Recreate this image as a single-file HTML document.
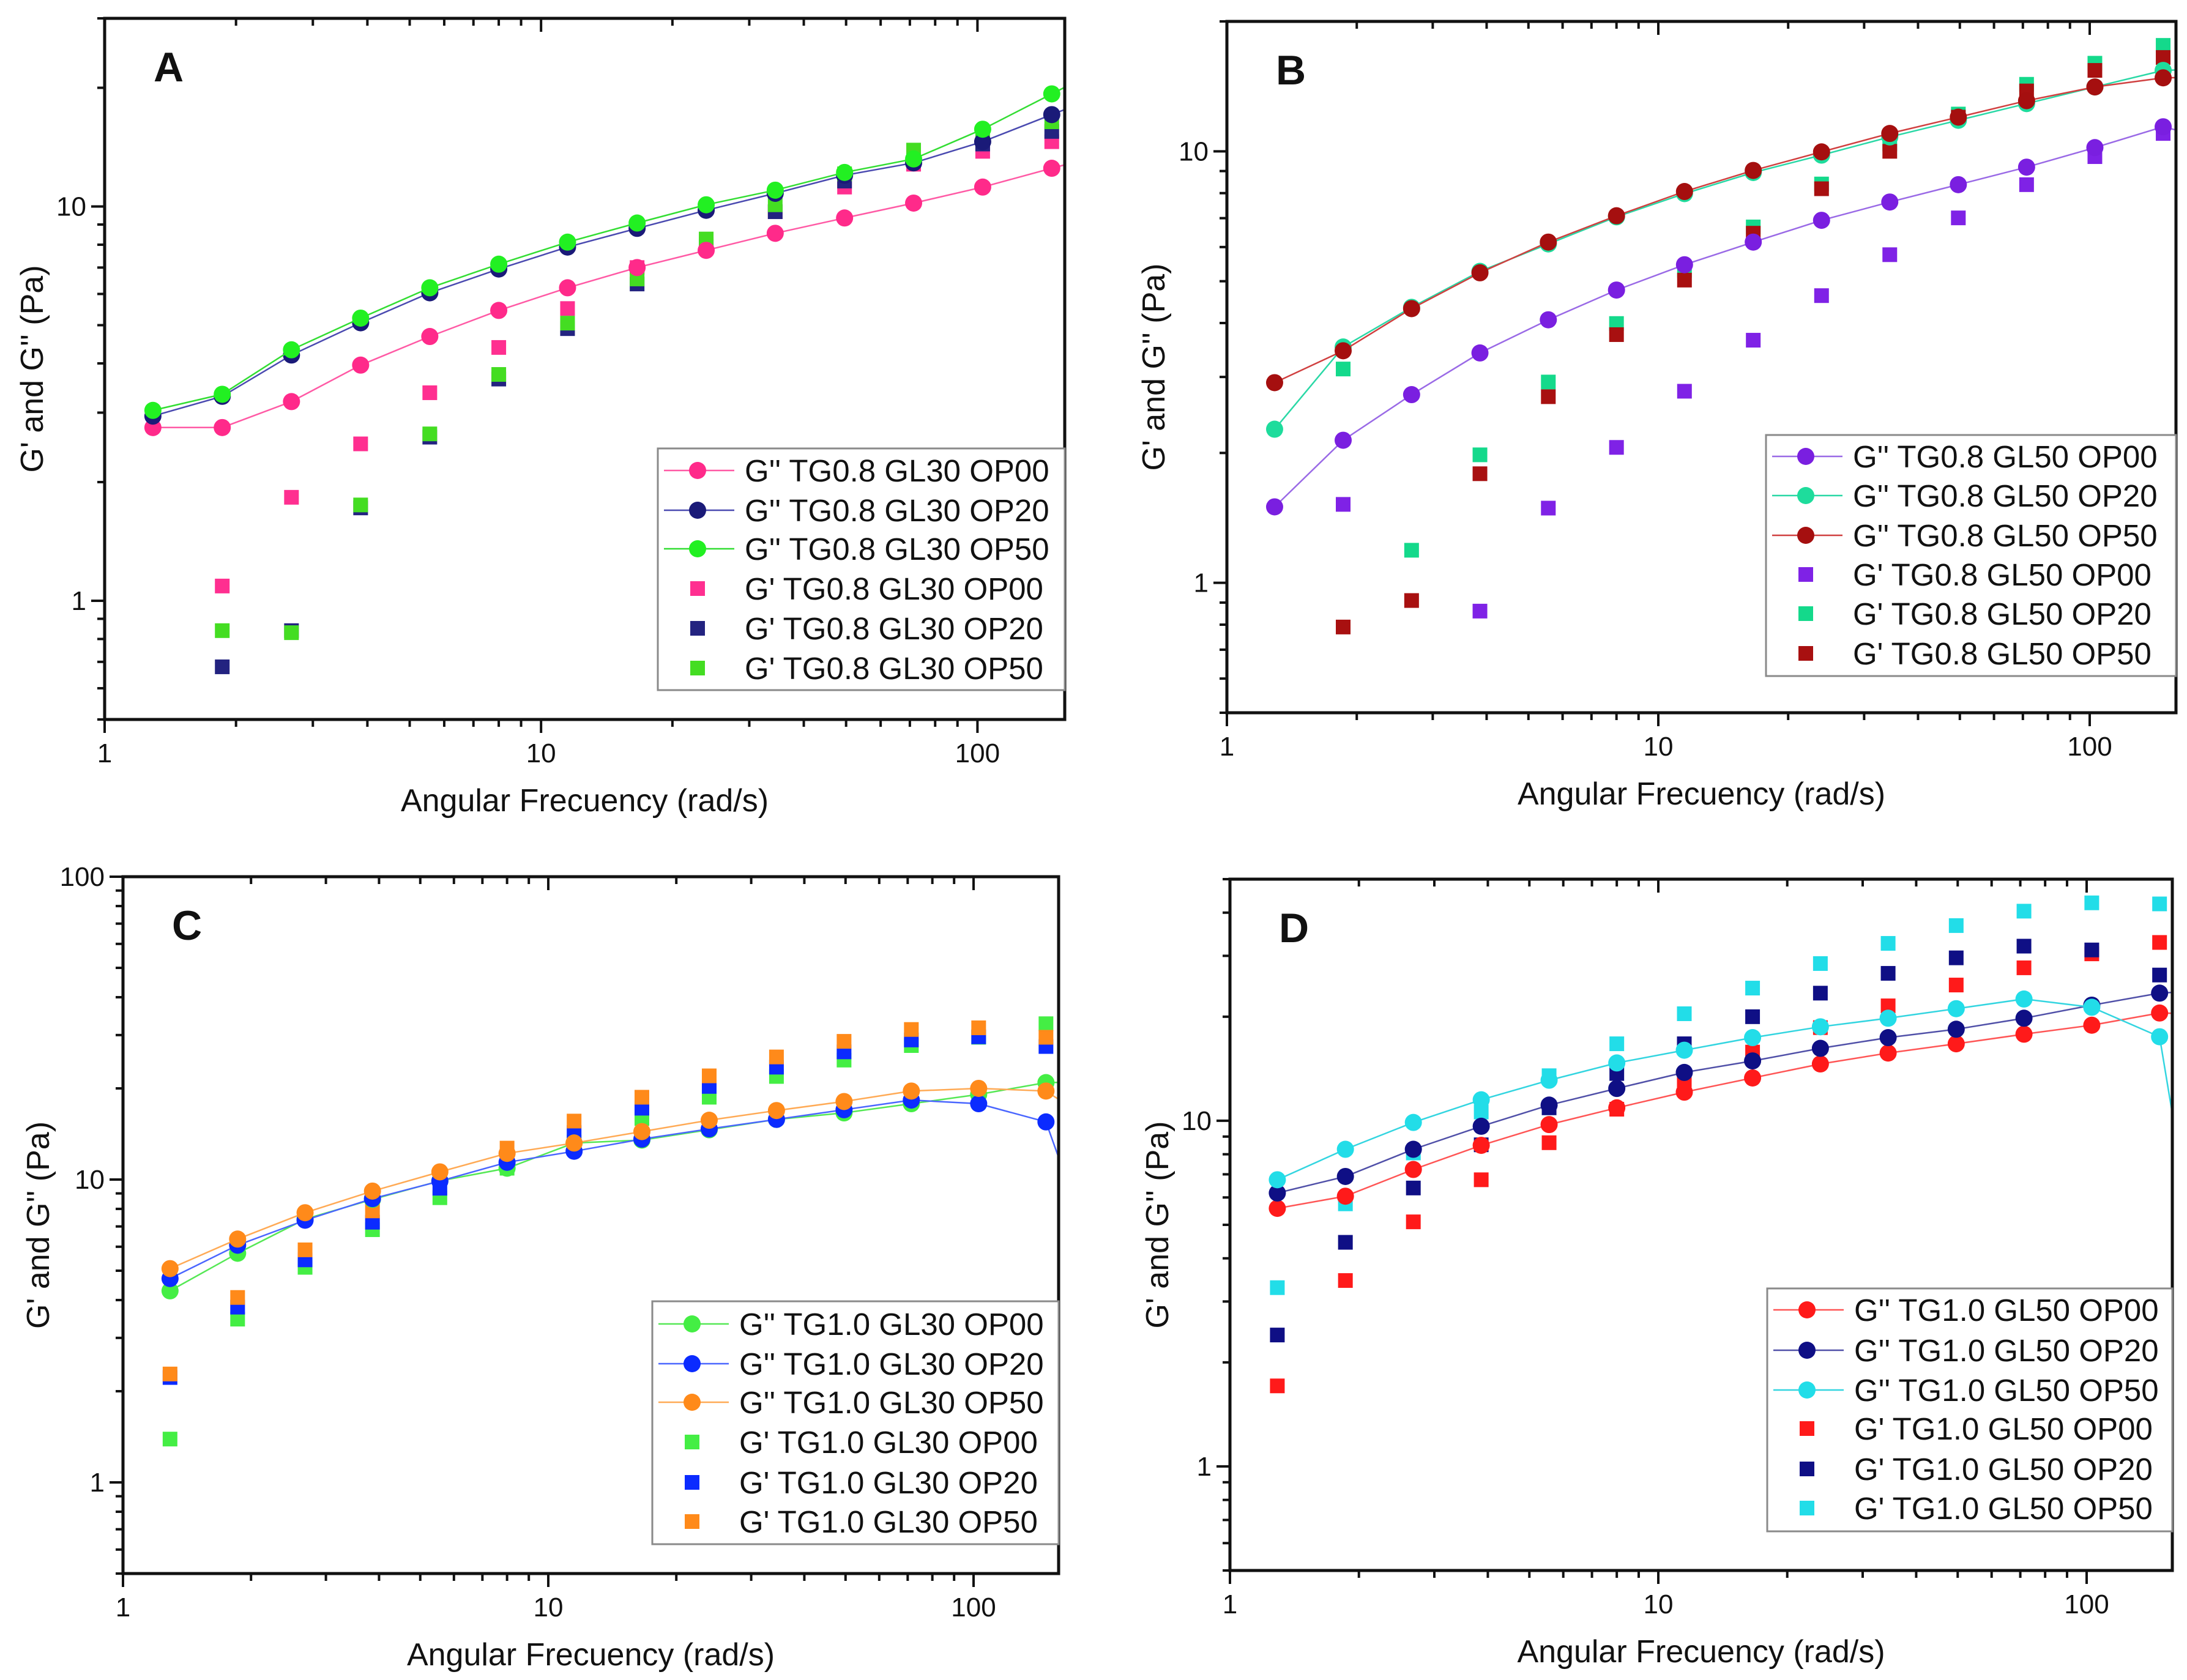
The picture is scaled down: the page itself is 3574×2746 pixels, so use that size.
<!DOCTYPE html>
<html><head><meta charset="utf-8"><title>Rheology panels</title>
<style>html,body{margin:0;padding:0;background:#fff}svg{display:block}text{font-family:"Liberation Sans",Arial,sans-serif}</style>
</head><body>
<svg id="fig" xmlns="http://www.w3.org/2000/svg" width="3574" height="2746" viewBox="0 0 3574 2746">
<rect width="3574" height="2746" fill="#fff"/>
</svg>
<script>
// shared frequency categories (rad/s)
const freq = [1.29,1.86,2.68,3.86,5.56,8.0,11.5,16.6,23.9,34.4,49.6,71.4,102.8,148];
const freqLine = [1.29,1.86,2.68,3.86,5.56,8.0,11.5,16.6,23.9,34.4,49.6,71.4,102.8,148,213];
const xTickLabels = ["1","10","100"];

// Panel A
const aGpp00 = [2.75,2.75,3.2,3.96,4.68,5.45,6.22,7.0,7.74,8.55,9.35,10.2,11.2,12.5,13.9];
const aGpp20 = [2.94,3.3,4.2,5.07,6.04,6.94,7.89,8.8,9.78,10.8,12.0,12.9,14.6,17.1,20];
const aGpp50 = [3.04,3.34,4.33,5.21,6.22,7.14,8.12,9.08,10.1,11.0,12.2,13.2,15.7,19.3,23.7];
const aGp00 = [null,1.09,1.83,2.5,3.37,4.39,5.51,7.0,8.0,9.7,11.2,12.8,13.8,14.6];
const aGp20 = [null,0.68,0.84,1.72,2.6,3.65,4.9,6.36,7.9,9.7,11.6,13.1,14.4,15.5];
const aGp50 = [null,0.84,0.83,1.75,2.65,3.75,5.06,6.55,8.27,10.1,12.1,13.9,15.4,16.4];
const aYTicks = ["1","10"];

// Panel B
const bGpp00 = [1.5,2.14,2.73,3.41,4.07,4.77,5.46,6.16,6.92,7.63,8.37,9.19,10.2,11.4,10.4];
const bGpp20 = [2.27,3.52,4.35,5.27,6.1,7.05,7.98,8.93,9.8,10.8,11.8,12.9,14.1,15.4,15.6];
const bGpp50 = [2.91,3.45,4.32,5.23,6.16,7.09,8.07,9.03,9.97,11.0,12.0,13.1,14.1,14.8,14.9];
const bGp00 = [null,1.52,null,0.86,1.49,2.06,2.78,3.65,4.63,5.76,7.01,8.37,9.72,11.0];
const bGp20 = [null,3.13,1.19,1.98,2.92,3.99,5.3,6.68,8.4,10.4,12.2,14.3,16.0,17.6];
const bGp50 = [null,0.79,0.91,1.79,2.7,3.76,5.03,6.46,8.19,10.0,12.0,13.8,15.4,16.5];
const bYTicks = ["1","10"];

// Panel C
const cGpp00 = [4.29,5.71,7.4,8.6,9.9,10.9,13.2,13.5,14.6,15.8,16.6,17.8,19.1,20.9,21];
const cGpp20 = [4.71,6.07,7.34,8.65,9.88,11.4,12.4,13.6,14.7,15.8,17.0,18.3,17.8,15.5,3.7];
const cGpp50 = [5.08,6.36,7.77,9.16,10.6,12.2,13.2,14.4,15.7,16.9,18.1,19.6,20.0,19.6,14];
const cGp00 = [1.39,3.46,5.13,6.83,8.71,10.9,13.3,15.9,18.7,21.9,24.8,27.7,29.5,32.7];
const cGp20 = [2.22,3.79,5.43,7.23,9.36,11.6,14.3,17.2,20.3,23.5,26.4,28.9,29.6,27.5];
const cGp50 = [2.28,4.08,5.86,7.88,10.2,12.7,15.6,18.7,22.0,25.4,28.6,31.3,31.7,29.5];
const cYTicks = ["1","10","100"];

// Panel D
const dGpp00 = [5.58,6.05,7.23,8.49,9.75,10.9,12.1,13.3,14.6,15.7,16.7,17.8,18.9,20.5,20.3];
const dGpp20 = [6.18,6.9,8.27,9.64,11.1,12.4,13.8,14.9,16.2,17.4,18.4,19.8,21.6,23.4,24];
const dGpp50 = [6.75,8.27,9.89,11.5,13.1,14.7,16.0,17.4,18.7,19.8,21.1,22.5,21.3,17.5,1.15];
const dGp00 = [1.71,3.45,5.1,6.75,8.64,10.8,13.1,15.8,18.6,21.5,24.7,27.7,30.4,32.8];
const dGp20 = [2.4,4.45,6.39,8.52,10.9,13.7,16.7,20.0,23.4,26.7,29.6,32.0,31.2,26.4];
const dGp50 = [3.29,5.75,8.07,10.6,13.5,16.7,20.4,24.2,28.5,32.6,36.7,40.4,42.7,42.4];
const dYTicks = ["1","10"];

const NS = "http://www.w3.org/2000/svg";
const svg = document.getElementById("fig");
function mk(tag, attrs, parent){
  const e = document.createElementNS(NS, tag);
  for (const k in attrs) e.setAttribute(k, attrs[k]);
  (parent||svg).appendChild(e);
  return e;
}

const panels = [
  {id:"a", letter:"A", L:171, T:30, R:1740, B:1176, ymin:0.5, ymax:30, yTicks:aYTicks, ytitleX:52,
   leg:{L:1075,T:733,R:1740,B:1128,rows:[769,834,897,962,1027,1092]},
   lines:[{d:aGpp00,c:"#ff2a8a",lc:"#ff5aa5",n:"G'' TG0.8 GL30 OP00"},{d:aGpp20,c:"#1a1a78",lc:"#4a4ab0",n:"G'' TG0.8 GL30 OP20"},{d:aGpp50,c:"#22f022",lc:"#33dd33",n:"G'' TG0.8 GL30 OP50"}],
   sq:[{d:aGp00,c:"#ff2f90",n:"G' TG0.8 GL30 OP00"},{d:aGp20,c:"#232380",n:"G' TG0.8 GL30 OP20"},{d:aGp50,c:"#44dd22",n:"G' TG0.8 GL30 OP50"}]},
  {id:"b", letter:"B", L:2005, T:35, R:3556, B:1165, ymin:0.5, ymax:20, yTicks:bYTicks, ytitleX:1885,
   leg:{L:2886,T:711,R:3556,B:1105,rows:[746,810,875,939,1003,1068]},
   lines:[{d:bGpp00,c:"#7a1fe0",lc:"#9a6ae6",n:"G'' TG0.8 GL50 OP00"},{d:bGpp20,c:"#1edc9c",lc:"#2ad8a6",n:"G'' TG0.8 GL50 OP20"},{d:bGpp50,c:"#a50f0f",lc:"#d04040",n:"G'' TG0.8 GL50 OP50"}],
   sq:[{d:bGp00,c:"#7f22e6",n:"G' TG0.8 GL50 OP00"},{d:bGp20,c:"#14d98b",n:"G' TG0.8 GL50 OP20"},{d:bGp50,c:"#a81010",n:"G' TG0.8 GL50 OP50"}]},
  {id:"c", letter:"C", L:201, T:1433, R:1730, B:2572, ymin:0.5, ymax:100, yTicks:cYTicks, ytitleX:62,
   leg:{L:1066,T:2127,R:1730,B:2524,rows:[2164,2229,2292,2357,2423,2487]},
   lines:[{d:cGpp00,c:"#44ee44",lc:"#55e855",n:"G'' TG1.0 GL30 OP00"},{d:cGpp20,c:"#0b2bff",lc:"#4a66ff",n:"G'' TG1.0 GL30 OP20"},{d:cGpp50,c:"#ff8a1a",lc:"#ffaa55",n:"G'' TG1.0 GL30 OP50"}],
   sq:[{d:cGp00,c:"#44ee44",n:"G' TG1.0 GL30 OP00"},{d:cGp20,c:"#0b2bff",n:"G' TG1.0 GL30 OP20"},{d:cGp50,c:"#ff8a1a",n:"G' TG1.0 GL30 OP50"}]},
  {id:"d", letter:"D", L:2010, T:1437, R:3550, B:2567, ymin:0.5, ymax:50, yTicks:dYTicks, ytitleX:1891,
   leg:{L:2888,T:2106,R:3550,B:2503,rows:[2141,2207,2272,2335,2401,2465]},
   lines:[{d:dGpp00,c:"#ff1a1a",lc:"#ff5555",n:"G'' TG1.0 GL50 OP00"},{d:dGpp20,c:"#0f0f85",lc:"#5050a8",n:"G'' TG1.0 GL50 OP20"},{d:dGpp50,c:"#22dde8",lc:"#33d5e0",n:"G'' TG1.0 GL50 OP50"}],
   sq:[{d:dGp00,c:"#ff1a1a",n:"G' TG1.0 GL50 OP00"},{d:dGp20,c:"#0f0f85",n:"G' TG1.0 GL50 OP20"},{d:dGp50,c:"#22dde8",n:"G' TG1.0 GL50 OP50"}]}
];

const XMIN = 1, XMAX = Math.pow(10,2.2);

panels.forEach(p => {
  const g = mk("g", {});
  
  
  const xs = v => p.L + (Math.log10(v) - Math.log10(XMIN)) / (Math.log10(XMAX) - Math.log10(XMIN)) * (p.R - p.L);
  const ys = v => p.B - (Math.log10(v) - Math.log10(p.ymin)) / (Math.log10(p.ymax) - Math.log10(p.ymin)) * (p.B - p.T);

  const clip = mk("clipPath", {id:"clip-"+p.id}, g);
  mk("rect", {x:p.L, y:p.T, width:p.R-p.L, height:p.B-p.T}, clip);
  const plot = mk("g", {"clip-path":"url(#clip-"+p.id+")"}, g);
  
  

  p.sq.forEach((s, si) => {
    const sg = mk("g", {fill:s.c}, plot);
    
    
    s.d.forEach((v, i) => {
      if (v == null) return;
      const r = mk("rect", {x:xs(freq[i])-12, y:ys(v)-12, width:24, height:24}, sg);
      
      
    });
  });
  p.lines.forEach((s, si) => {
    const lg = mk("g", {}, plot);
    
    
    const pts = s.d.map((v, i) => xs(freqLine[i]).toFixed(1) + "," + ys(v).toFixed(1)).join(" ");
    const pl = mk("polyline", {points:pts, fill:"none", stroke:s.lc, "stroke-width":2.5}, lg);
    
    
    s.d.forEach((v, i) => {
      if (i >= freq.length) return;
      const c = mk("circle", {cx:xs(freq[i]), cy:ys(v), r:14, fill:s.c}, lg);
      
      
    });
  });

  const ax = mk("g", {stroke:"#111", "stroke-width":5, fill:"none"}, g);
  
  
  mk("rect", {x:p.L, y:p.T, width:p.R-p.L, height:p.B-p.T}, ax);

  const tk = mk("g", {stroke:"#111", "stroke-width":4}, g);
  for (let dec = 1; dec <= 100; dec *= 10) {
    for (let m = 1; m <= 9; m++) {
      const v = dec*m; if (v > XMAX) continue;
      const x = xs(v), len = m === 1 ? 22 : 12;
      mk("line", {x1:x, y1:p.B, x2:x, y2:p.B+len}, tk);
      mk("line", {x1:x, y1:p.T, x2:x, y2:p.T+len}, tk);
    }
  }
  xTickLabels.forEach(t => {
    const tx = mk("text", {x:xs(parseFloat(t)), y:p.B+70, "font-size":44, "text-anchor":"middle", fill:"#111"}, g);
    tx.textContent = t;
    
    
  });
  for (let dec = 0.1; dec <= 100; dec *= 10) {
    for (let m = 1; m <= 9; m++) {
      const v = dec*m; if (v < p.ymin*0.999 || v > p.ymax*1.001) continue;
      const y = ys(v), len = m === 1 ? 22 : 12;
      mk("line", {x1:p.L, y1:y, x2:p.L-len, y2:y}, tk);
    }
  }
  p.yTicks.forEach(t => {
    const ty = mk("text", {x:p.L-30, y:ys(parseFloat(t))+15, "font-size":44, "text-anchor":"end", fill:"#111"}, g);
    ty.textContent = t;
    
    
  });

  const xt = mk("text", {x:(p.L+p.R)/2, y:p.B+150, "font-size":52, "text-anchor":"middle", fill:"#111"}, g);
  xt.textContent = "Angular Frecuency (rad/s)";
  
  
  const yc = (p.T+p.B)/2;
  const yt = mk("text", {x:p.ytitleX, y:yc, "font-size":52, "text-anchor":"middle", fill:"#111", transform:"rotate(-90 "+p.ytitleX+" "+yc+")", dy:"18"}, g);
  yt.textContent = "G' and G'' (Pa)";
  
  
  const lt = mk("text", {x:p.L+80, y:p.T+103, "font-size":68, "font-weight":"bold", fill:"#111"}, g);
  lt.textContent = p.letter;
  
  

  const lg = mk("g", {}, g);
  
  
  mk("rect", {x:p.leg.L, y:p.leg.T, width:p.leg.R-p.leg.L, height:p.leg.B-p.leg.T, fill:"#fff", stroke:"#8a8a8a", "stroke-width":3}, lg);
  const entries = p.lines.map(s => ({s, line:true})).concat(p.sq.map(s => ({s, line:false})));
  entries.forEach((e, i) => {
    const y = p.leg.rows[i], sx = p.leg.L + 65;
    const eg = mk("g", {}, lg);
    
    
    if (e.line) {
      mk("line", {x1:p.leg.L+10, y1:y, x2:p.leg.L+125, y2:y, stroke:e.s.lc, "stroke-width":2.5}, eg);
      mk("circle", {cx:sx, cy:y, r:14, fill:e.s.c}, eg);
    } else {
      mk("rect", {x:sx-12, y:y-12, width:24, height:24, fill:e.s.c}, eg);
    }
    const t = mk("text", {x:p.leg.L+142, y:y+18, "font-size":51, fill:"#111"}, eg);
    t.textContent = e.s.n;
  });
});
</script>
</body></html>
